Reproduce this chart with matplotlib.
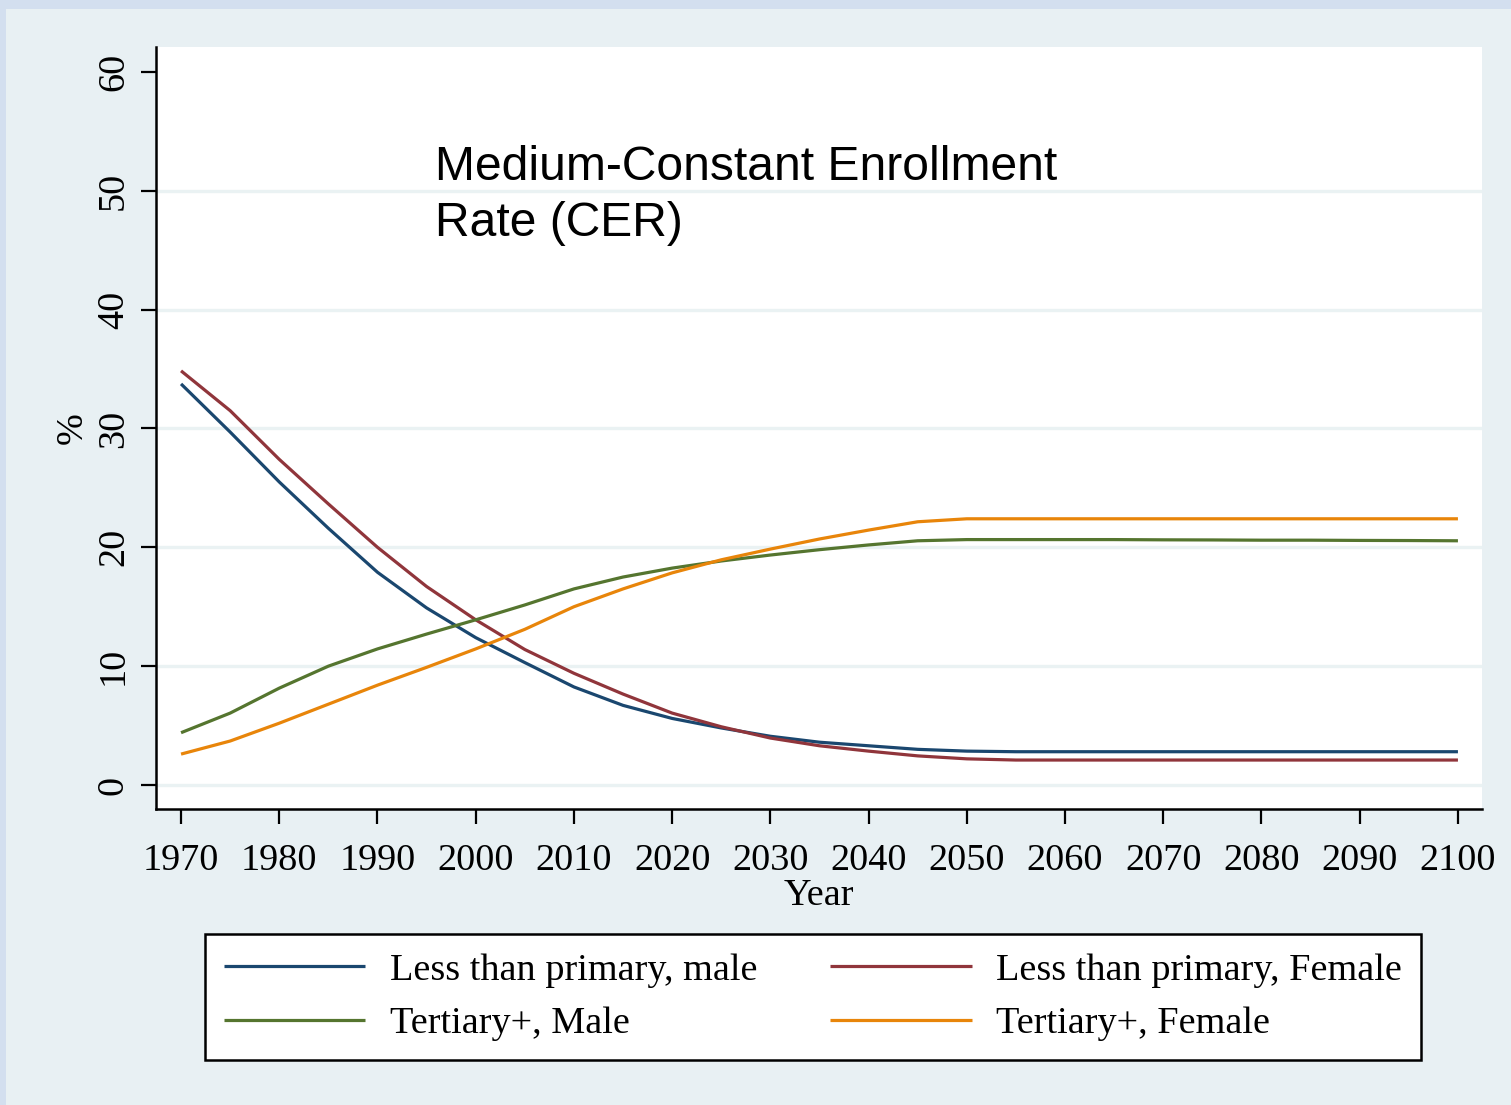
import matplotlib
matplotlib.use("Agg")
import matplotlib.pyplot as plt
from matplotlib.patches import Rectangle

# Projection years and shares (%) by education level and sex
years = [1970, 1975, 1980, 1985, 1990, 1995, 2000, 2005, 2010, 2015, 2020, 2025,
         2030, 2035, 2040, 2045, 2050, 2055, 2060, 2065, 2070, 2075, 2080, 2085,
         2090, 2095, 2100]

less_primary_male = [33.75, 29.7, 25.5, 21.6, 17.9, 14.9, 12.4, 10.3, 8.25, 6.7, 5.6, 4.8,
                     4.1, 3.6, 3.3, 3.0, 2.85, 2.8, 2.8, 2.8, 2.8, 2.8, 2.8, 2.8,
                     2.8, 2.8, 2.8]
less_primary_female = [34.85, 31.5, 27.4, 23.65, 20.0, 16.7, 13.9, 11.4, 9.4, 7.65, 6.05, 4.9,
                       3.95, 3.3, 2.85, 2.45, 2.2, 2.1, 2.1, 2.1, 2.1, 2.1, 2.1, 2.1,
                       2.1, 2.1, 2.1]
tertiary_male = [4.4, 6.05, 8.15, 10.0, 11.45, 12.7, 13.9, 15.15, 16.5, 17.5, 18.25, 18.85,
                 19.35, 19.8, 20.2, 20.55, 20.65, 20.65, 20.65, 20.65, 20.63, 20.62, 20.6, 20.6,
                 20.58, 20.57, 20.55]
tertiary_female = [2.6, 3.7, 5.2, 6.8, 8.4, 9.9, 11.45, 13.1, 15.0, 16.5, 17.85, 18.95,
                   19.85, 20.7, 21.45, 22.15, 22.4, 22.4, 22.4, 22.4, 22.4, 22.4, 22.4, 22.4,
                   22.4, 22.4, 22.4]

series_labels = ["Less than primary, male", "Less than primary, Female",
                 "Tertiary+, Male", "Tertiary+, Female"]
series_colors = ["#1a476f", "#90353b", "#55752f", "#e8850a"]

x_ticks = list(range(1970, 2101, 10))
y_ticks = [0, 10, 20, 30, 40, 50, 60]

title_text = "Medium-Constant Enrollment\nRate (CER)"

W, H = 1511, 1105
fig = plt.figure(figsize=(W / 100, H / 100), dpi=100)
fig.patch.set_facecolor("#e8f0f3")

# thin bluish border strips along top and left edges
fig.patches.append(Rectangle((0, 1 - 9 / H), 1, 9 / H, transform=fig.transFigure,
                             facecolor="#d3dfef", edgecolor="none", zorder=0))
fig.patches.append(Rectangle((0, 0), 6 / W, 1, transform=fig.transFigure,
                             facecolor="#d3dfef", edgecolor="none", zorder=0))

ax_left, ax_right = 156 / W, 1482 / W
ax_bottom, ax_top = 1 - 809 / H, 1 - 47 / H
ax = fig.add_axes([ax_left, ax_bottom, ax_right - ax_left, ax_top - ax_bottom])
ax.set_facecolor("white")

serif = "Liberation Serif"
sans = "Liberation Sans"

lines = []
for vals, lab, col in zip([less_primary_male, less_primary_female, tertiary_male, tertiary_female],
                          series_labels, series_colors):
    ln, = ax.plot(years, vals, color=col, lw=2.3, label=lab, solid_capstyle="butt", zorder=3)
    lines.append(ln)

ax.set_xlim(1967.45, 2102.45)
ax.set_ylim(-2.02, 62.1)

# horizontal grid lines
for yv in y_ticks[:-1]:
    ax.axhline(yv, color="#eaf2f3", lw=2.4, zorder=1)

ax.set_xticks(x_ticks)
ax.set_yticks(y_ticks)
ax.set_xticklabels([str(v) for v in x_ticks], fontfamily=serif, fontsize=27.5)
ax.set_yticklabels([str(v) for v in y_ticks], fontfamily=serif, fontsize=27.5,
                   rotation=90, va="center")
ax.tick_params(axis="x", length=11, width=1.6, pad=13.5, color="black")
ax.tick_params(axis="y", length=11, width=1.6, pad=7, color="black")

for side in ["top", "right"]:
    ax.spines[side].set_visible(False)
for side in ["left", "bottom"]:
    ax.spines[side].set_linewidth(1.8)
    ax.spines[side].set_color("black")

ax.set_xlabel("Year", fontfamily=serif, fontsize=27.5, labelpad=0.5)
ax.set_ylabel("%", fontfamily=serif, fontsize=27.5, labelpad=5)

fig.text(435 / W, 1 - 145 / H, title_text, fontfamily=sans, fontsize=34.6,
         ha="left", va="top", linespacing=1.31)

# two-column legend, filled row by row
order = [0, 2, 1, 3]
leg = fig.legend([lines[i] for i in order], [series_labels[i] for i in order],
                 loc="upper left", bbox_to_anchor=(205 / W, 1 - 934 / H),
                 ncol=2, prop={"family": serif, "size": 27.5},
                 handlelength=3.7, handletextpad=0.65, columnspacing=1.9,
                 labelspacing=0.48, borderpad=0.5, borderaxespad=0,
                 fancybox=False, framealpha=1, edgecolor="black")
leg.get_frame().set_linewidth(1.8)
for line in leg.get_lines():
    line.set_linewidth(2.3)

fig.savefig("out.png", dpi=100, facecolor=fig.get_facecolor())
